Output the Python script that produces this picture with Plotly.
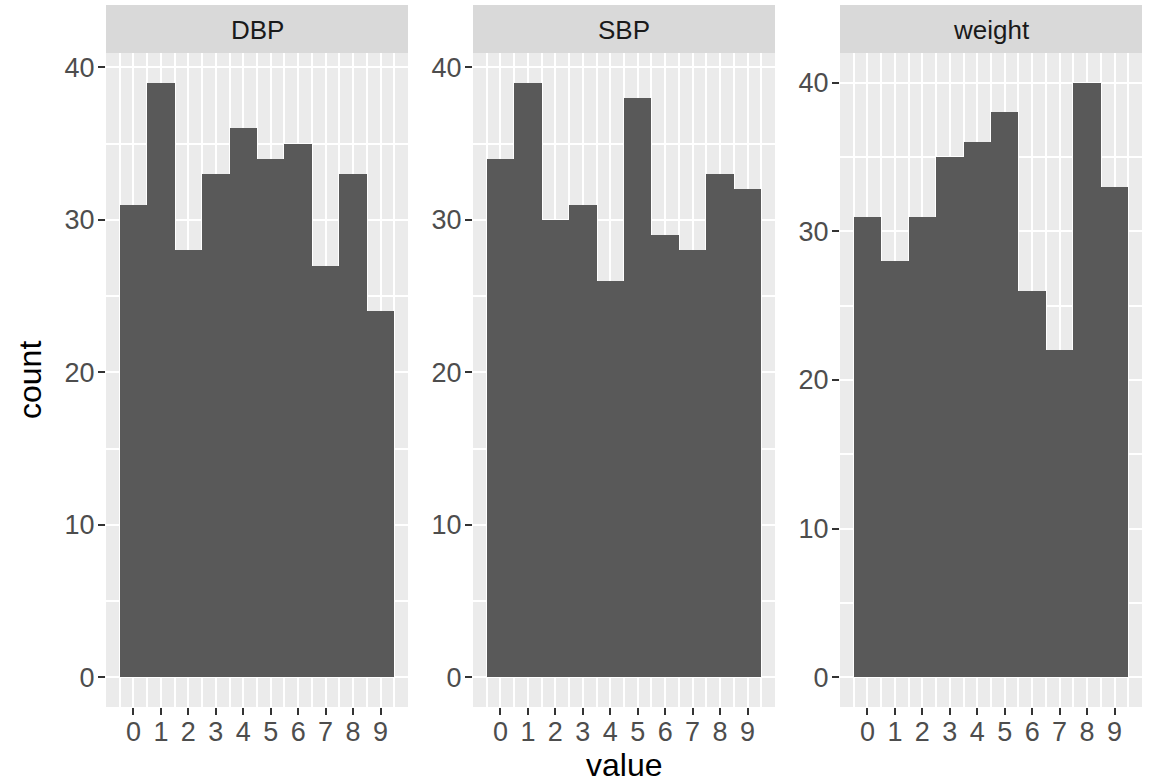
import plotly.graph_objects as go

# ---- data ----
digits = list(range(10))
tick_labels = [str(d) for d in digits]
panel_names = ["DBP", "SBP", "weight"]
dbp_counts = [31, 39, 28, 33, 36, 34, 35, 27, 33, 24]
sbp_counts = [34, 39, 30, 31, 26, 38, 29, 28, 33, 32]
weight_counts = [31, 28, 31, 35, 36, 38, 26, 22, 40, 33]
y_tick_vals = [0, 10, 20, 30, 40]

series = [dbp_counts, sbp_counts, weight_counts]

W, H = 1152, 780
FONT = "Liberation Sans, Arial, sans-serif"
panel_x = [(106, 408), (473, 775), (840, 1142)]
panel_top, panel_bottom = 53, 707
strip_top = 5

ydom = [1 - panel_bottom / H, 1 - panel_top / H]

fig = go.Figure()
for i, (name, counts) in enumerate(zip(panel_names, series)):
    k = "" if i == 0 else str(i + 1)
    fig.add_trace(go.Bar(
        x=digits, y=counts, width=1.0,
        marker=dict(color="#595959", line=dict(width=0)),
        xaxis="x" + k, yaxis="y" + k, showlegend=False,
        hoverinfo="x+y",
    ))
    x0, x1 = panel_x[i]
    xd = [x0 / W, x1 / W]
    top = max(counts)
    common_tick = dict(ticks="outside", ticklen=7, tickwidth=2, tickcolor="#333333",
                       tickfont=dict(family=FONT, size=27, color="#4D4D4D"),
                       showline=False, zeroline=False,
                       showgrid=True, gridcolor="#FFFFFF", gridwidth=2.4)
    fig.layout["xaxis" + k] = dict(
        domain=xd, anchor="y" + k, range=[-1, 10],
        tickmode="array", tickvals=digits, ticktext=tick_labels,
        minor=dict(tickmode="linear", tick0=-0.5, dtick=1, showgrid=True,
                   gridcolor="#FFFFFF", gridwidth=1.6, ticks=""),
        ticklabelstandoff=-6,
        **common_tick)
    fig.layout["yaxis" + k] = dict(
        domain=ydom, anchor="x" + k, range=[-0.05 * top, 1.05 * top],
        tickmode="array", tickvals=y_tick_vals,
        minor=dict(tickmode="linear", tick0=5, dtick=10, showgrid=True,
                   gridcolor="#FFFFFF", gridwidth=1.6, ticks=""),
        ticklabelstandoff=-2,
        **common_tick)
    # strip
    fig.add_shape(type="rect", xref="paper", yref="paper",
                  x0=xd[0], x1=xd[1], y0=1 - panel_top / H, y1=1 - strip_top / H,
                  fillcolor="#D9D9D9", line=dict(width=0), layer="below")
    fig.add_annotation(text=name, xref="paper", yref="paper",
                       x=(xd[0] + xd[1]) / 2, y=1 - (panel_top + strip_top + 2) / 2 / H,
                       xanchor="center", yanchor="middle", showarrow=False,
                       font=dict(family=FONT, size=26, color="#1A1A1A"))

# axis titles
fig.add_annotation(text="value", xref="paper", yref="paper",
                   x=(panel_x[0][0] + panel_x[2][1]) / 2 / W, y=1 - 765 / H,
                   xanchor="center", yanchor="middle", showarrow=False,
                   font=dict(family=FONT, size=32, color="#000000"))
fig.add_annotation(text="count", xref="paper", yref="paper",
                   x=30 / W, y=1 - (panel_top + panel_bottom) / 2 / H,
                   xanchor="center", yanchor="middle", showarrow=False, textangle=-90,
                   font=dict(family=FONT, size=32, color="#000000"))

fig.update_layout(
    width=W, height=H, margin=dict(l=0, r=0, t=0, b=0),
    paper_bgcolor="#FFFFFF", plot_bgcolor="#EBEBEB",
    bargap=0, barmode="overlay",
)

fig.write_html("out.html", config={"displayModeBar": False},
               post_script="document.body.style.margin='0';document.body.style.overflow='hidden';")
